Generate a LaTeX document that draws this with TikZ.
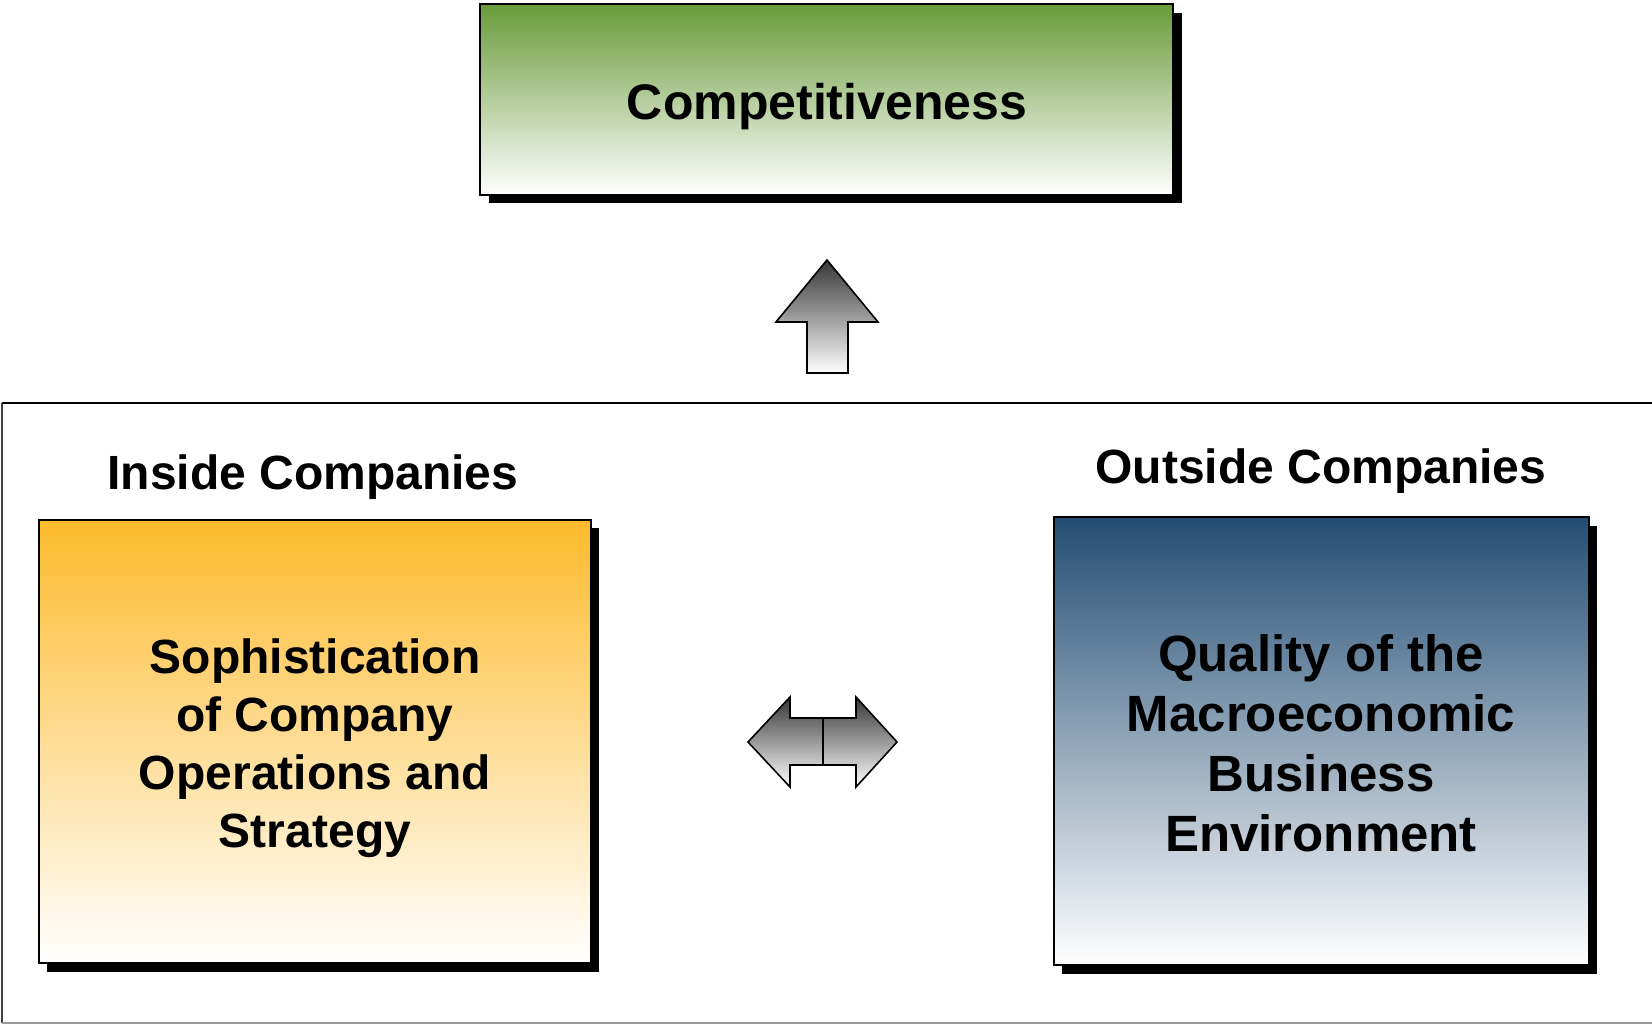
\documentclass[tikz,border=0pt]{standalone}
\usepackage{fontspec}
\setmainfont{Liberation Sans}
\definecolor{cgreen}{RGB}{105,155,58}
\definecolor{cgreenmid}{RGB}{190,208,180}
\definecolor{corange}{RGB}{253,186,44}
\definecolor{corangemid}{RGB}{253,215,160}
\definecolor{cblue}{RGB}{35,77,115}
\definecolor{cbluemid}{RGB}{160,170,190}
\definecolor{cdark}{RGB}{55,55,55}
\begin{document}
\begin{tikzpicture}[x=0.5pt,y=-0.5pt,
  boxline/.style={draw=black, line width=1.3pt},
  shadowbox/.style={fill=black, draw=none},
  lbl/.style={font=\fontsize{24}{29}\selectfont\bfseries, anchor=base, inner sep=0pt},
  arrowshape/.style={draw=black, line width=0.8pt, line join=miter}]
\useasboundingbox (0,0) rectangle (1652,1024);
% outer frame
\draw[line width=1pt, black!75] (2,1023) -- (2,403);
\draw[line width=1pt, black] (2,403) -- (1656,403);
\draw[line width=1pt, black!40] (2,1023) -- (1656,1023);
% top box
\fill[shadowbox] (489,13) rectangle (1182,203);
\path[boxline, top color=cgreen, middle color=cgreenmid, bottom color=white]
  (480,4) rectangle (1173,195);
\node[font=\fontsize{25}{30}\selectfont\bfseries, anchor=base, inner sep=0pt] (comp) at (827,119) {Competitiveness};
% up arrow
\path[arrowshape, top color=cdark, bottom color=white]
  (827,260) -- (878,322) -- (848,322) -- (848,373) -- (807,373) -- (807,322) -- (776,322) -- cycle;
% left box
\fill[shadowbox] (47,528) rectangle (599,972);
\path[boxline, top color=corange, middle color=corangemid, bottom color=white]
  (39,520) rectangle (591,963);
\node[lbl] (inside) at (313,489) {Inside Companies};
\node[font=\fontsize{24}{29}\selectfont\bfseries, align=center, inner sep=0pt] (ltext) at (315,748)
  {Sophistication\\of Company\\Operations and\\Strategy};
% right box
\fill[shadowbox] (1062,526) rectangle (1597,974);
\path[boxline, top color=cblue, middle color=cbluemid, bottom color=white]
  (1054,517) rectangle (1589,965);
\node[lbl] (outside) at (1321,483) {Outside Companies};
\node[font=\fontsize{25.5}{30}\selectfont\bfseries, align=center, inner sep=0pt] (rtext) at (1321,743)
  {Quality of the\\Macroeconomic\\Business\\Environment};
% double arrow
\path[arrowshape, top color=cdark, bottom color=white]
  (823,718) -- (790,718) -- (790,697) -- (748,742) -- (790,787) -- (790,765) -- (823,765) -- cycle;
\path[arrowshape, top color=cdark, bottom color=white]
  (823,718) -- (856,718) -- (856,697) -- (897,742) -- (856,787) -- (856,765) -- (823,765) -- cycle;
\end{tikzpicture}
\end{document}
